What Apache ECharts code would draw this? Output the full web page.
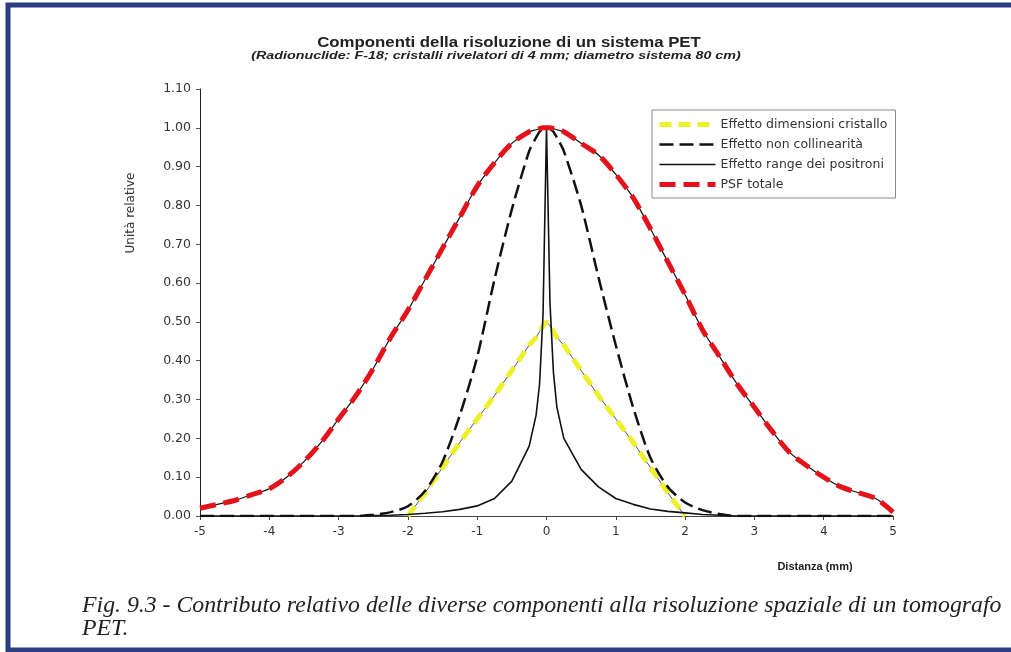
<!DOCTYPE html>
<html>
<head>
<meta charset="utf-8">
<script src="https://cdn.jsdelivr.net/npm/echarts@6/dist/echarts.min.js"></script>
<style>
html,body{margin:0;padding:0;background:#fff;}
#c{width:1011px;height:652px;}
</style>
</head>
<body>
<div id="c"></div>
<script>
// Distance (mm) grid shared by all curves
const xs = [-5,-4.75,-4.5,-4.25,-4,-3.75,-3.5,-3.25,-3,-2.75,-2.5,-2.25,-2,-1.75,-1.5,-1.25,-1,-0.75,-0.5,-0.25,
  -0.15,-0.1,-0.05,0,0.05,0.1,0.15,
  0.25,0.5,0.75,1,1.25,1.5,1.75,2,2.25,2.5,2.75,3,3.25,3.5,3.75,4,4.25,4.5,4.75,5];

const crystal = [null,null,null,null,null,null,null,null,null,null,null,null,0,0.06,0.125,0.19,0.25,0.31,0.375,0.44,
  0.46,0.475,0.49,0.5,0.49,0.475,0.46,
  0.44,0.375,0.31,0.25,0.19,0.125,0.06,0,null,null,null,null,null,null,null,null,null,null,null,null];

const nonColl = [0,0,0,0,0,0,0,0,0,0,0.003,0.01,0.025,0.065,0.14,0.26,0.41,0.61,0.79,0.94,
  0.975,0.99,0.997,1,0.997,0.99,0.975,
  0.94,0.80,0.615,0.44,0.28,0.15,0.075,0.035,0.015,0.005,0,0,0,0,0,0,0,0,0,0];

const positron = [0,0,0,0,0,0,0,0,0,0,0.001,0.002,0.004,0.007,0.011,0.017,0.026,0.045,0.09,0.18,
  0.26,0.34,0.52,1,0.55,0.37,0.28,
  0.20,0.12,0.075,0.045,0.03,0.018,0.012,0.008,0.004,0.002,0,0,0,0,0,0,0,0,0,0];

const psf = [0.02,0.03,0.04,0.055,0.07,0.10,0.14,0.19,0.25,0.31,0.38,0.46,0.53,0.61,0.69,0.77,0.85,0.91,0.96,0.99,
  0.995,0.998,1,1,1,0.998,0.995,
  0.99,0.96,0.93,0.88,0.82,0.74,0.655,0.57,0.48,0.41,0.34,0.28,0.22,0.165,0.13,0.10,0.075,0.06,0.045,0.01];

const seriesNames = ['Effetto dimensioni cristallo','Effetto non collinearità','Effetto range dei positroni','PSF totale'];
const yTicks = {min:0, max:1.1, interval:0.1};
const xTicks = {min:-5, max:5, interval:1};

const pairs = arr => xs.map((x,i)=>[x, arr[i]]);

const chart = echarts.init(document.getElementById('c'), null, {renderer:'canvas'});
const font = 'Liberation Sans, Arial, sans-serif';
const wide = 'DejaVu Sans, Verdana, sans-serif';
const serif = 'Liberation Serif, Times New Roman, serif';

const styles = [
  {color:'#eef02a', width:5, type:[12,7]},
  {color:'#111', width:2.5, type:[14,6]},
  {color:'#111', width:1.6, type:'solid'},
  {color:'#e3121b', width:5, type:[16,8]}
];

chart.setOption({
  backgroundColor:'#fff',
  animation:false,
  grid:{left:200, right:118, top:89, bottom:136, containLabel:false},
  xAxis:{
    type:'value', min:xTicks.min, max:xTicks.max, interval:xTicks.interval,
    axisLine:{show:true, onZero:false, lineStyle:{color:'#444', width:1}},
    axisTick:{show:true, length:4, inside:false, lineStyle:{color:'#444'}},
    splitLine:{show:false},
    axisLabel:{color:'#333', fontFamily:wide, fontSize:12, margin:10}
  },
  yAxis:{
    type:'value', min:yTicks.min, max:yTicks.max, interval:yTicks.interval,
    axisLine:{show:true, onZero:false, lineStyle:{color:'#222', width:1}},
    axisTick:{show:true, length:4, lineStyle:{color:'#555'}},
    splitLine:{show:false},
    axisLabel:{color:'#333', fontFamily:wide, fontSize:12.5, margin:9,
      formatter:v=>v.toFixed(2)}
  },
  legend:{
    data:seriesNames.map((n,i)=>({name:n, lineStyle:{color:styles[i].color, width:styles[i].width, type:styles[i].type}})),
    orient:'vertical', left:652, top:110,
    backgroundColor:'#fff',
    borderColor:'#8a8a8a', borderWidth:1, borderRadius:0,
    padding:[8,8,7,5], itemGap:7,
    itemWidth:56, itemHeight:12,
    itemStyle:{opacity:0},
    textStyle:{fontFamily:wide, fontSize:12.5, color:'#333'},
    selectedMode:false
  },
  series:[
    {type:'line', data:pairs(crystal), symbol:'none', silent:true, connectNulls:false,
      lineStyle:{color:'#555', width:1}, z:2},
    {name:seriesNames[0], type:'line', data:pairs(crystal), symbol:'none', connectNulls:false,
      lineStyle:styles[0], z:3},
    {name:seriesNames[1], type:'line', data:pairs(nonColl), symbol:'none', smooth:0.25,
      lineStyle:styles[1], z:4},
    {name:seriesNames[2], type:'line', data:pairs(positron), symbol:'none',
      lineStyle:styles[2], z:5},
    {type:'line', data:pairs(psf), symbol:'none', smooth:0.3, silent:true,
      lineStyle:{color:'#111', width:1.2}, z:6},
    {name:seriesNames[3], type:'line', data:pairs(psf), symbol:'none', smooth:0.3,
      lineStyle:styles[3], z:7}
  ],
  graphic:[
    {type:'rect', shape:{x:8, y:5, width:1010, height:645}, style:{fill:null, stroke:'#2b3d82', lineWidth:5}, z:100},
    {type:'text', x:509, y:43, scaleX:1.2, style:{text:'Componenti della risoluzione di un sistema PET', fontFamily:font, fontWeight:'bold', fontSize:14, fill:'#222', textAlign:'center', textVerticalAlign:'middle'}},
    {type:'text', x:496, y:56, scaleX:1.3, style:{text:'(Radionuclide: F-18; cristalli rivelatori di 4 mm; diametro sistema 80 cm)', fontFamily:font, fontWeight:'bold', fontStyle:'italic', fontSize:11, fill:'#222', textAlign:'center', textVerticalAlign:'middle'}},
    {type:'text', x:131, y:213, rotation:Math.PI/2, style:{text:'Unità relative', fontFamily:wide, fontSize:12, fill:'#333', textAlign:'center', textVerticalAlign:'middle'}},
    {type:'text', x:815, y:567, style:{text:'Distanza (mm)', fontFamily:font, fontWeight:'bold', fontSize:11, fill:'#222', textAlign:'center', textVerticalAlign:'middle'}},
    {type:'text', x:82, y:606, scaleX:1.021, style:{text:'Fig. 9.3 - Contributo relativo delle diverse componenti alla risoluzione spaziale di un tomografo', fontFamily:serif, fontStyle:'italic', fontSize:23.3, fill:'#222', textAlign:'left', textVerticalAlign:'middle'}},
    {type:'text', x:82, y:629, scaleX:1.021, style:{text:'PET.', fontFamily:serif, fontStyle:'italic', fontSize:23.3, fill:'#222', textAlign:'left', textVerticalAlign:'middle'}}
  ]
});
</script>
</body>
</html>
